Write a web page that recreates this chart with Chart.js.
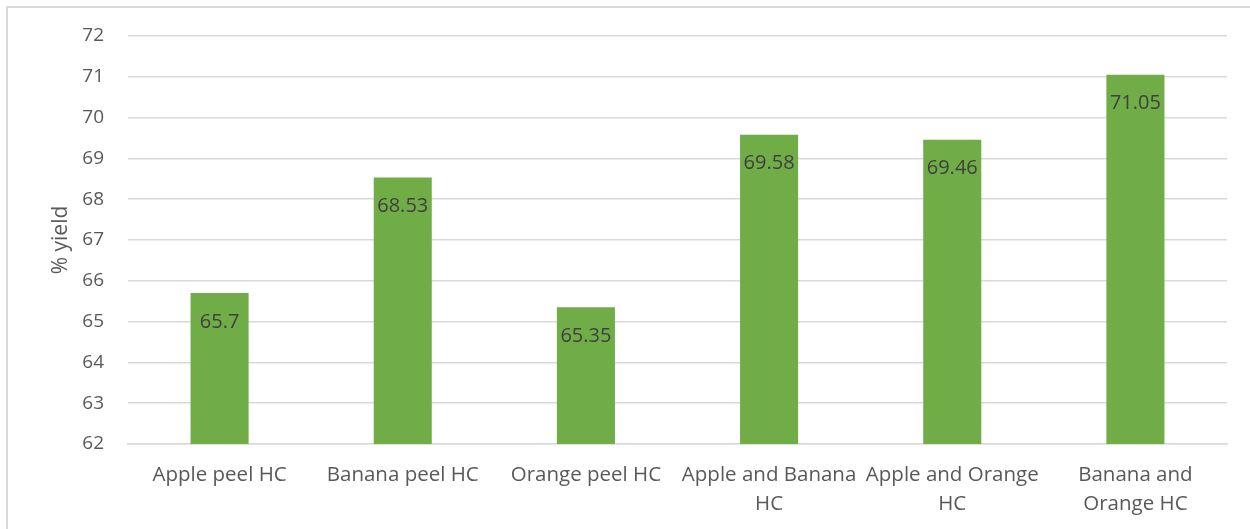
<!DOCTYPE html>
<html>
<head>
<meta charset="utf-8">
<script src="https://cdn.jsdelivr.net/npm/chart.js@4/dist/chart.umd.min.js"></script>
<style>
  body { margin: 0; background: #fff; }
  #wrap { position: relative; width: 1250px; height: 529px; overflow: hidden; }
  #frame { position: absolute; left: 6px; top: 6px; width: 1260px; height: 540px; border: 2px solid #d9d9d9; box-sizing: border-box; }
  canvas { position: absolute; left: 0; top: 0; }
</style>
</head>
<body>
<div id="wrap">
  <div id="frame"></div>
  <canvas id="yield-graph" width="1250" height="529"></canvas>
</div>
<script>
const categories = [
   'Apple peel HC',
   'Banana peel HC',
   'Orange peel HC',
   ['Apple and Banana', 'HC'],
   ['Apple and Orange', 'HC'],
   ['Banana and', 'Orange HC']
]
const yieldValues = [65.7, 68.53, 65.35, 69.58, 69.46, 71.05]
const yTicks = [62, 63, 64, 65, 66, 67, 68, 69, 70, 71, 72]

const fontFamily = "'Open Sans', sans-serif"

// value labels just inside the top of each bar
const valueLabels = {
   id: 'valueLabels',
   afterDatasetsDraw(chart) {
      const c = chart.ctx
      const meta = chart.getDatasetMeta(0)
      c.save()
      c.font = `20px ${fontFamily}`
      c.fillStyle = '#404040'
      c.textAlign = 'center'
      c.textBaseline = 'middle'
      meta.data.forEach((bar, i) => {
         c.fillText(String(yieldValues[i]), bar.x, bar.y + 29)
      })
      c.restore()
   }
}

const ctx = document.getElementById('yield-graph')

const barGraph = new Chart(ctx, {
   type: 'bar',
   data: {
      labels: categories,
      datasets: [{
         label: '% yield',
         data: yieldValues,
         backgroundColor: '#70ad47',
         barPercentage: 0.317,
         categoryPercentage: 1
      }]
   },
   options: {
      responsive: false,
      animation: false,
      layout: { padding: { top: 36, right: 23, left: 0, bottom: 0 } },
      plugins: {
         legend: { display: false },
         tooltip: { enabled: false }
      },
      scales: {
         x: {
            grid: { display: false },
            border: { color: '#d9d9d9', width: 1.5 },
            ticks: {
               color: '#595959',
               font: { family: fontFamily, size: 20.5, lineHeight: 1.41 },
               padding: 9,
               maxRotation: 0,
               autoSkip: false
            },
            afterFit(scale) { scale.height = 85 }
         },
         y: {
            min: 62,
            max: 72,
            afterBuildTicks(scale) { scale.ticks = yTicks.map(v => ({ value: v })) },
            grid: { color: '#d9d9d9', lineWidth: 1.5, drawTicks: false },
            border: { display: false },
            ticks: {
               color: '#595959',
               font: { family: fontFamily, size: 19 },
               padding: 24
            },
            title: {
               display: true,
               text: '% yield',
               color: '#595959',
               font: { family: fontFamily, size: 21 },
               padding: { top: 48, bottom: 0 }
            },
            afterFit(scale) { scale.width = 128 }
         }
      }
   },
   plugins: [valueLabels]
})
</script>
</body>
</html>
